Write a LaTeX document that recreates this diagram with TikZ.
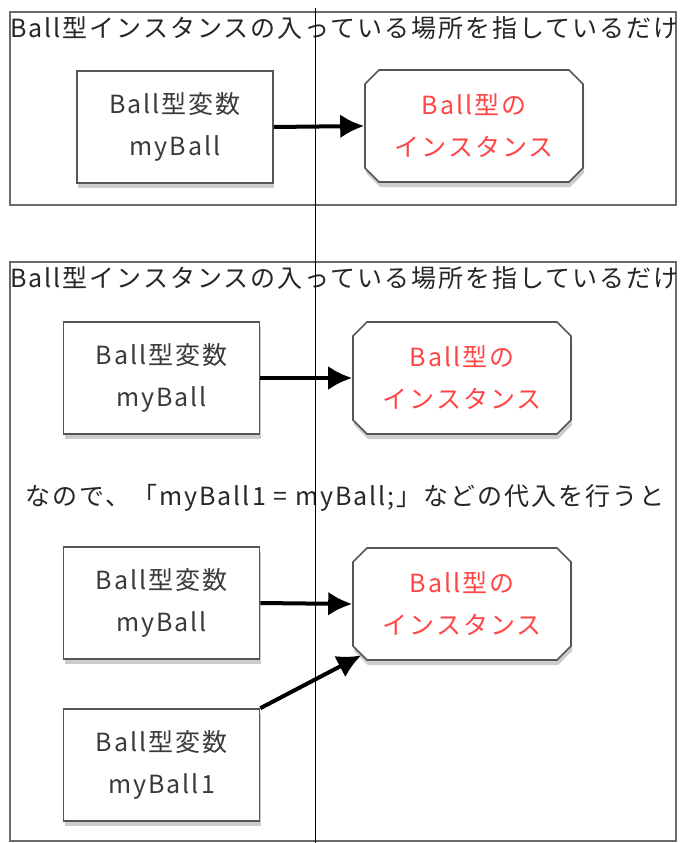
\documentclass[tikz,border=0pt]{standalone}
\usepackage{fontspec}
\setmainfont[LetterSpace=8]{Noto Sans CJK JP}
\usetikzlibrary{shapes.misc,shadows,arrows.meta}

\definecolor{boxtext}{HTML}{3A3A3A}
\definecolor{insttext}{HTML}{FF4545}
\definecolor{framegray}{HTML}{6A6A6A}

\tikzset{
  varbox/.style={draw=framegray!80!black,line width=1.6pt,fill=white,text=boxtext,
    minimum width=196pt,minimum height=112pt,align=center,
    font=\fontsize{25}{42}\selectfont,
    drop shadow={shadow xshift=1pt,shadow yshift=-5pt,opacity=.4}},
  instbox/.style={varbox,chamfered rectangle,chamfered rectangle xsep=7pt,
    chamfered rectangle ysep=7pt,minimum width=218pt,text=insttext},
  ref/.style={line width=4pt,-{Latex[length=24pt,width=24pt]}},
  frame/.style={draw=framegray,line width=2.5pt},
  caption/.style={inner sep=0pt,font=\fontsize{25}{26}\selectfont,text=black!85}
}

\begin{document}
\begin{tikzpicture}[x=1pt,y=-1pt]
\useasboundingbox (0,0) rectangle (683,843);

% upper frame
\draw[frame] (10,12) rectangle (676,205);
\node[caption,anchor=west] (title1) at (10,28) {Ball型インスタンスの入っている場所を指しているだけ};

\node[varbox] (var1) at (175,127) {Ball型変数\\myBall};
\node[instbox] (inst1) at (474,126) {Ball型の\\インスタンス};
\draw[ref] (var1.east) -- (inst1.west);

% lower frame
\draw[frame] (10,262) rectangle (676,841);
\node[caption,anchor=west] (title2) at (10,278) {Ball型インスタンスの入っている場所を指しているだけ};

\node[varbox] (var2) at (161.5,378) {Ball型変数\\myBall};
\node[instbox] (inst2) at (462,378) {Ball型の\\インスタンス};
\draw[ref] (var2.east) -- (inst2.west);

\node[caption] (assign) at (345,498) {なので、「myBall1 = myBall;」などの代入を行うと};

\node[varbox] (var3) at (161.5,603) {Ball型変数\\myBall};
\node[instbox] (inst3) at (462,604) {Ball型の\\インスタンス};
\draw[ref] (var3.east) -- (inst3.west);

\node[varbox] (var4) at (161.5,765) {Ball型変数\\myBall1};
\draw[ref] (var4.north east) -- (inst3.207);

%\draw (315,8) -- (315,843);
\draw[line width=1pt] (315,8) -- (315,843);

\end{tikzpicture}
\end{document}
